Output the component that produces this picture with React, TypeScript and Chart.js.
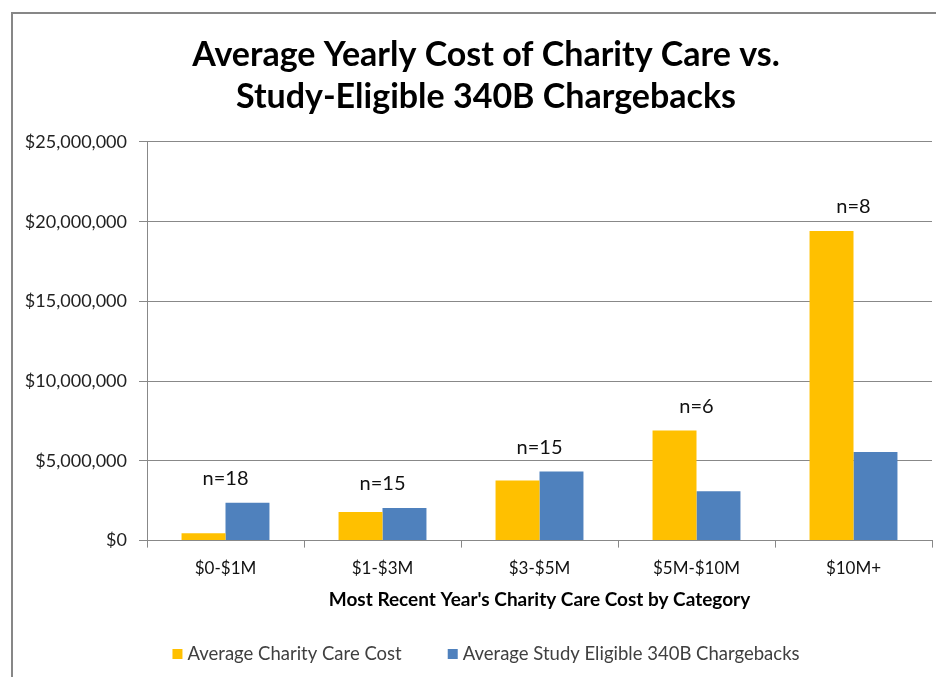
import React, { useEffect, useRef } from "react";
import { Chart, registerables } from "chart.js";

Chart.register(...registerables);

const categories = ["$0-$1M", "$1-$3M", "$3-$5M", "$5M-$10M", "$10M+"];
const charityCare = [460000, 1800000, 3770000, 6910000, 19420000];
const chargebacks = [2370000, 2050000, 4330000, 3100000, 5550000];
const sampleLabels = ["n=18", "n=15", "n=15", "n=6", "n=8"];
const yTicks = [0, 5000000, 10000000, 15000000, 20000000, 25000000];

const FONT = "Lato, 'Open Sans', sans-serif";

const nLabelPlugin = {
  id: "nLabels",
  afterDatasetsDraw(chart: any) {
    const { ctx, scales } = chart;
    const xs = scales.x;
    const ys = scales.y;
    ctx.save();
    ctx.font = `20px ${FONT}`;
    ctx.fillStyle = "#111";
    ctx.textAlign = "center";
    ctx.textBaseline = "middle";
    sampleLabels.forEach((t, i) => {
      const x = xs.getPixelForValue(i);
      const y = ys.getPixelForValue(Math.max(charityCare[i], chargebacks[i])) - 24;
      ctx.fillText(t, x, y);
    });
    ctx.restore();
  },
};

const legendPlugin = {
  id: "bottomLegend",
  afterDraw(chart: any) {
    const { ctx } = chart;
    const items = chart.data.datasets.map((d: any) => ({
      text: d.label as string,
      color: d.backgroundColor as string,
    }));
    ctx.save();
    ctx.font = `18.5px ${FONT}`;
    ctx.textBaseline = "middle";
    ctx.textAlign = "left";
    const box = 10;
    const gap = 5;
    const spacing = 46;
    const widths = items.map((it: any) => box + gap + ctx.measureText(it.text).width);
    const total = widths.reduce((a: number, b: number) => a + b, 0) + spacing * (items.length - 1);
    let x = chart.width / 2 - total / 2;
    const y = chart.height - 23;
    items.forEach((it: any, i: number) => {
      ctx.fillStyle = it.color;
      ctx.fillRect(x, y - box / 2, box, box);
      ctx.fillStyle = "#404040";
      ctx.fillText(it.text, x + box + gap, y);
      x += widths[i] + spacing;
    });
    ctx.restore();
  },
};

export default function App() {
  const ref = useRef<HTMLCanvasElement>(null);
  useEffect(() => {
    document.body.style.margin = "0";
    document.body.style.overflow = "hidden";
    const chart = new Chart(ref.current!, {
      type: "bar",
      data: {
        labels: categories,
        datasets: [
          {
            label: "Average Charity Care Cost",
            data: charityCare,
            backgroundColor: "#FFC000",
            borderWidth: 0,
          },
          {
            label: "Average Study Eligible 340B Chargebacks",
            data: chargebacks,
            backgroundColor: "#4F81BD",
            borderWidth: 0,
          },
        ],
      },
      options: {
        animation: false,
        responsive: false,
        maintainAspectRatio: false,
        layout: { padding: { left: 0, right: 0, top: 0, bottom: 68 } },
        datasets: { bar: { categoryPercentage: 0.56, barPercentage: 1 } },
        plugins: {
          title: {
            display: true,
            text: ["Average Yearly Cost of Charity Care vs.", "Study-Eligible 340B Chargebacks"],
            font: { family: FONT, size: 34, weight: "bold", lineHeight: 1.235 },
            color: "#000",
            padding: { top: 20, bottom: 24 },
          },
          legend: { display: false },
          tooltip: { enabled: false },
        },
        scales: {
          x: {
            grid: {
              drawOnChartArea: false,
              drawTicks: true,
              tickLength: 7,
              color: "#888",
              offset: true,
            },
            border: { color: "#888", width: 1 },
            ticks: { font: { family: FONT, size: 17 }, color: "#111", padding: 11 },
            title: {
              display: true,
              text: "Most Recent Year's Charity Care Cost by Category",
              font: { family: FONT, size: 19, weight: "bold", lineHeight: 1.0 },
              color: "#000",
              padding: { top: 0, bottom: 0 },
            },
          },
          y: {
            min: 0,
            max: 25000000,
            afterBuildTicks(scale: any) {
              scale.ticks = yTicks.map((v) => ({ value: v }));
            },
            afterFit(scale: any) {
              scale.width = 134;
            },
            grid: { color: "#888", tickLength: 8, lineWidth: 1 },
            border: { color: "#888", width: 1 },
            ticks: {
              font: { family: FONT, size: 18 },
              color: "#222",
              padding: 12,
              callback: (v: any) => "$" + Number(v).toLocaleString("en-US"),
            },
          },
          yRight: {
            position: "right",
            display: true,
            min: 0,
            max: 1,
            afterFit(scale: any) {
              scale.width = 27;
            },
            grid: { display: false, drawOnChartArea: false },
            border: { display: false },
            ticks: { display: false },
          },
        },
      },
      plugins: [nLabelPlugin, legendPlugin],
    });
    return () => chart.destroy();
  }, []);

  return (
    <div
      style={{
        position: "absolute",
        left: 11,
        top: 12,
        width: 960,
        height: 680,
        borderLeft: "2px solid #878787",
        borderTop: "2px solid #878787",
        background: "#fff",
      }}
    >
      <canvas ref={ref} width={946} height={663} style={{ display: "block" }} />
    </div>
  );
}
